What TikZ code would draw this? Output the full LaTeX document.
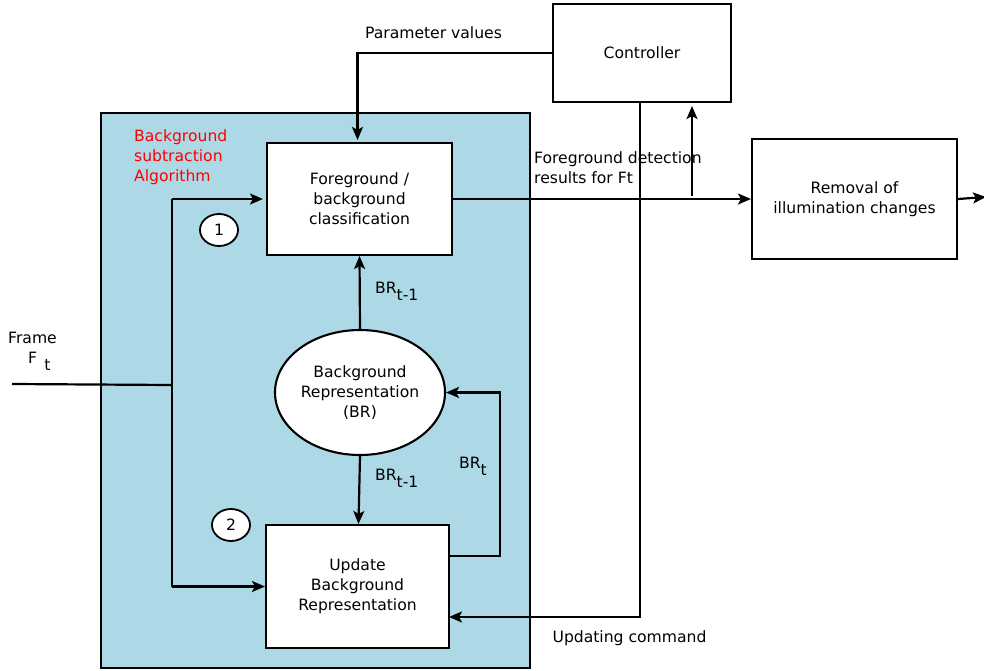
\documentclass[tikz,border=0pt]{standalone}
\usepackage{fontspec}
\setmainfont{DejaVu Sans}
\usetikzlibrary{arrows.meta,shapes.geometric}
\begin{document}
\begin{tikzpicture}[x=1pt,y=-1pt,
  font=\fontsize{15.6}{20}\selectfont,
  box/.style={draw,line width=2.1pt,fill=white,rectangle,inner sep=2pt,align=center},
  ln/.style={line width=2.2pt},
  arr/.style={line width=2.2pt,-{Stealth[length=13pt,width=11pt,inset=3pt]}},
  num/.style={draw,line width=1.8pt,fill=white,ellipse,minimum width=38pt,minimum height=32pt,inner sep=0pt},
  lbl/.style={inner sep=0pt}]
\useasboundingbox (0,0) rectangle (984,671);
\definecolor{bgblue}{RGB}{173,216,230}
% background container
\node[draw,line width=2.1pt,fill=bgblue,minimum width=429pt,minimum height=555pt,inner sep=0pt] (algo) at (315.5,390.5) {};
% blocks
\node[box,minimum width=185pt,minimum height=112pt] (fg) at (359.5,199) {Foreground /\\ background\\classification};
\node[box,minimum width=178pt,minimum height=98pt] (ctrl) at (642,53) {Controller};
\node[box,minimum width=205pt,minimum height=120pt] (rem) at (854.5,199) {Removal of\\illumination changes};
\node[box,minimum width=183pt,minimum height=123pt] (upd) at (357.5,586.5) {Update\\Background\\Representation};
\node[draw,line width=2.1pt,fill=white,ellipse,minimum width=170pt,minimum height=125pt,inner sep=0pt,align=center] (br) at (360,392.5) {Background\\Representation\\(BR)};
\node[num] (n1) at (219,230) {1};
\node[num] (n2) at (231,525) {2};
% labels
\node[lbl,text=red,anchor=west,align=left] (alg) at (134,157) {Background\\subtraction\\Algorithm};
\node[lbl] (pv) at (433.5,33) {Parameter values};
\node[lbl,anchor=west,align=left] (fd) at (534,167.5) {Foreground detection\\results for Ft};
\node[lbl] (uc) at (629.5,638) {Updating command};
\node[lbl] (fr) at (32.5,338) {Frame};
\node[lbl] (frF) at (32.5,358) {F};
\node[lbl] (frt) at (47.5,365) {t};
\node[lbl,anchor=west] (bra) at (375,291) {BR\raisebox{-7pt}{t-1}};
\node[lbl,anchor=west] (brb) at (375,478) {BR\raisebox{-7pt}{t-1}};
\node[lbl,anchor=west] (brc) at (459,466) {BR\raisebox{-7pt}{t}};
% coordinates
\coordinate (fin) at (12,384);
\coordinate (jin) at (172,385);
\coordinate (j1) at (172,199);
\coordinate (j2) at (172,586.5);
\coordinate (up) at (692,196);
\coordinate (ucmd) at (449,617);
\coordinate (u1) at (449,556);
\coordinate (u2) at (500,556);
\coordinate (out) at (986,197);
% connectors
\draw[ln] (fin) -- (jin);
\draw[ln] (j1) -- (j2);
\draw[arr,shorten >=3pt] (j1) -- (fg.west);
\draw[arr] (j2) -- (upd.west);
\draw[arr] (ctrl.west) -| ([xshift=-2pt,yshift=2pt]fg.north);
\draw[arr] (fg.east) -- (rem.west);
\draw[arr,shorten >=3pt] (up) -- (up |- ctrl.south);
\draw[arr] ([xshift=-2pt]ctrl.south) |- (ucmd);
\draw[arr] (rem.east) -- (out);
\draw[arr] (br.north) -- (fg.south);
\draw[arr] (br.south) -- ([xshift=1pt]upd.north);
\draw[arr] (u1) -- (u2) |- (br.east);
\end{tikzpicture}
\end{document}
